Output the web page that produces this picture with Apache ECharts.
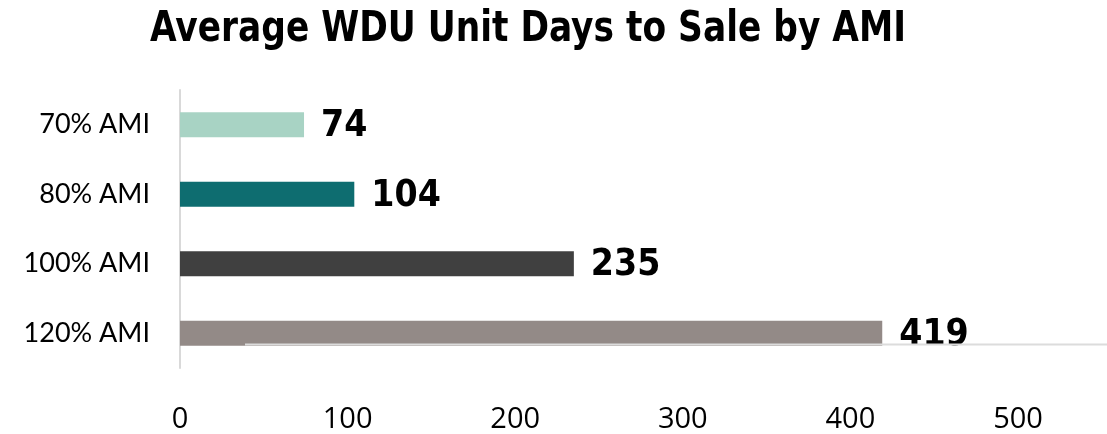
<!DOCTYPE html>
<html>
<head>
<meta charset="utf-8">
<script src="https://cdn.jsdelivr.net/npm/echarts@6/dist/echarts.min.js"></script>
<style>
html,body{margin:0;padding:0;background:#fff;}
#c{width:1107px;height:434px;}
</style>
</head>
<body>
<div id="c"></div>
<script>
const categories = ['70% AMI', '80% AMI', '100% AMI', '120% AMI'];
const values = [74, 104, 235, 419];
const tickValues = [0, 100, 200, 300, 400, 500];
const titleText = 'Average WDU Unit Days to Sale by AMI';

const palette = ['#a8d3c4', '#0e6d70', '#404040', '#938a87'];

const chart = echarts.init(document.getElementById('c'));
chart.setOption({
  animation: false,
  backgroundColor: '#ffffff',
  grid: { left: 180, top: 90, width: 838, height: 282, containLabel: false },
  xAxis: {
    type: 'value', min: 0, max: 500, interval: 100,
    axisLine: { show: false }, axisTick: { show: false }, splitLine: { show: false },
    axisLabel: { margin: 37, fontFamily: 'Open Sans', fontSize: 29, color: '#000',
      formatter: v => tickValues.includes(v) ? String(v) : '' }
  },
  yAxis: {
    type: 'category', data: categories, inverse: true,
    axisLine: { show: true, lineStyle: { color: '#d9d9d9', width: 2 } },
    axisTick: { show: false },
    axisLabel: { margin: 30, fontFamily: 'Lato', fontSize: 27, color: '#000' }
  },
  series: [{
    type: 'bar',
    barWidth: 25,
    data: values.map((v, i) => ({ value: v, itemStyle: { color: palette[i] } })),
    label: {
      show: true, position: 'right', distance: 17, offset: [0, 2],
      fontFamily: 'DejaVu Sans Condensed', fontWeight: 'bold', fontSize: 37, color: '#000'
    }
  }],
  graphic: [{
    type: 'group', x: 528, y: 8, scaleX: 0.89, z: 100,
    children: [{
      type: 'text',
      style: { text: titleText, x: 0, y: 0, textAlign: 'center', textVerticalAlign: 'top',
        fontFamily: 'DejaVu Sans Condensed', fontWeight: 'bold', fontSize: 43, fill: '#000' }
    }]
  }, {
    type: 'line', z: 100,
    shape: { x1: 245, y1: 344.5, x2: 1107, y2: 344.5 },
    style: { stroke: '#dcdcdc', lineWidth: 2 }
  }]
});
</script>
</body>
</html>
